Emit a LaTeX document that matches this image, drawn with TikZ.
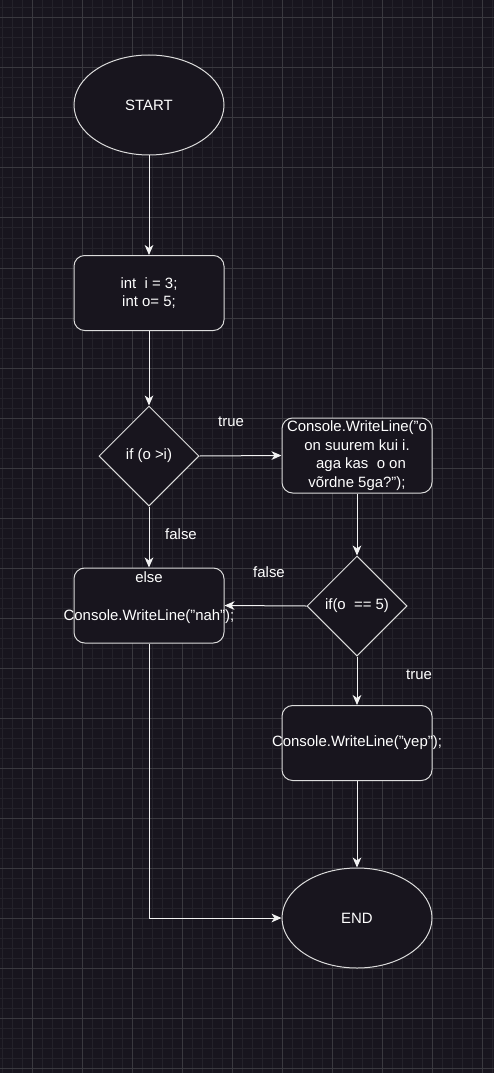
\documentclass[tikz,border=0pt]{standalone}
\usepackage{fontspec}
\setmainfont{Liberation Sans}
\usetikzlibrary{shapes.geometric,arrows.meta}
\definecolor{bgcol}{HTML}{18151E}
\definecolor{minorgrid}{HTML}{24222A}
\definecolor{majorgrid}{HTML}{3A393F}
\definecolor{linecol}{HTML}{F2F2F2}
\definecolor{bordercol}{HTML}{DCDCDC}
\tikzset{
  base/.style={draw=bordercol, line width=0.75pt, fill=bgcol, text=white, inner sep=0pt,
    font=\fontsize{11.2}{14}\selectfont, align=center},
  terminal/.style={base, ellipse, minimum width=112.5pt, minimum height=75pt},
  stepbox/.style={base, rectangle, rounded corners=8pt, minimum width=112.5pt, minimum height=56.25pt},
  decision/.style={base, diamond, minimum width=75pt, minimum height=75pt},
  lbl/.style={text=white, font=\fontsize{11.2}{14}\selectfont, inner sep=0pt},
  arr/.style={draw=linecol, line width=0.75pt, -{Stealth[length=7.5pt,width=6.5pt,inset=2.2pt]}}
}
\begin{document}
\begin{tikzpicture}[x=0.75pt,y=-0.75pt]
\fill [bgcol] (0,0) rectangle (494,1073);
\useasboundingbox (0,0) rectangle (494,1073);

% grid
\foreach \x in {2,12,...,492} \draw [minorgrid, line width=0.75pt] (\x,0)--(\x,1073);
\foreach \y in {8,18,...,1068} \draw [minorgrid, line width=0.75pt] (0,\y)--(494,\y);
\foreach \x in {32,82,...,482} \draw [majorgrid, line width=0.75pt] (\x,0)--(\x,1073);
\foreach \y in {18,68,...,1068} \draw [majorgrid, line width=0.75pt] (0,\y)--(494,\y);

% left column
\node [terminal] (start) at (149,105) {START};
\node [stepbox] (init) at (149,293) {int\ \ i = 3;\\int o= 5;};
\node [decision] (ifgt) at (149,456) {if (o >i)};
\node [stepbox] (nah) at (149,605.5) {else\\\mbox{}\\\makebox[0pt][c]{Console.WriteLine("nah");}\\\mbox{}};

% right column
\node [stepbox] (msg) at (357,455.5) {Console.WriteLine("o\\on suurem kui i.\\\hspace{6pt}aga kas\ \ o on\\võrdne 5ga?");};
\node [decision] (ifeq) at (357,606) {if(o\ \ == 5)};
\node [stepbox] (yep) at (357,743) {\makebox[0pt][c]{Console.WriteLine("yep");}};
\node [terminal] (end) at (357,918) {END};

% labels
\node [lbl] (ltrue) at (231,422) {true};
\node [lbl] (lfalse) at (181,534) {false};
\node [lbl] (lfalsetwo) at (269,572) {false};
\node [lbl] (ltruetwo) at (419,675) {true};

% connectors
\draw [arr] (start) -- (init);
\draw [arr] (init) -- (ifgt);
\draw [arr] (ifgt.east) -- (msg.west);
\draw [arr] (ifgt.south) -- (nah.north);
\draw [arr] (msg.south) -- (ifeq.north);
\draw [arr] (ifeq.west) -- (nah.east);
\draw [arr] (ifeq.south) -- (yep.north);
\draw [arr] (yep.south) -- (end.north);
\draw [arr] (nah.south) |- (end.west);
\end{tikzpicture}
\end{document}
